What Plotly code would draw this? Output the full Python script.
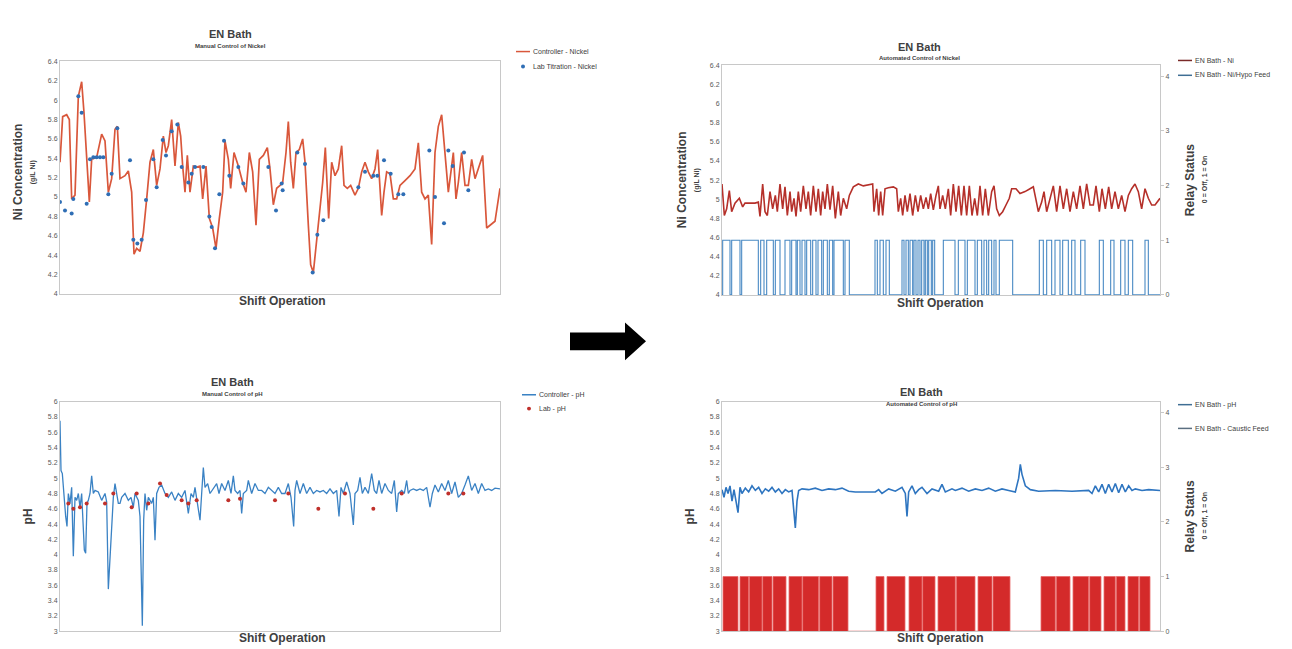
import plotly.graph_objects as go

# page offset compensation (browser body margin)
OFF = 8
W, H = 1292 - 2 * OFF, 649 - OFF

# ---------------- Top-left: Manual Control of Nickel ----------------
ni_manual_x = [0, 8, 20, 28, 35, 45, 55, 65, 72, 80, 88, 95, 110, 125, 135, 145, 155, 165, 172, 180,
               195, 205, 215, 222, 230, 240, 250, 260, 270, 280, 290, 300, 310, 318, 325, 335, 345, 355, 362, 368,
               375, 382, 390, 400, 410, 420, 428, 438, 448, 458, 468, 478, 488, 495, 505, 512, 522, 535, 548, 558,
               568, 578, 588, 598, 610, 622, 630, 640, 650, 660, 668, 678, 685, 692, 700, 708, 718, 728, 735, 745,
               752, 760, 770, 780, 788, 796, 806, 815, 825, 835, 845, 852, 862, 872, 885, 895, 905, 915, 925, 935,
               945, 953, 960, 965, 972, 980, 990, 1000, 1010, 1020, 1035, 1050, 1065, 1075, 1085, 1095, 1105, 1115, 1125, 1135,
               1145, 1155, 1165, 1175, 1180, 1188, 1195, 1205, 1215, 1225, 1235, 1245, 1255, 1268, 1280, 1290, 1305, 1320]
ni_manual_y = [5.36, 5.83, 5.85, 5.80, 4.98, 5.02, 6.04, 6.19, 5.87, 5.46, 4.95, 5.39, 5.41, 5.65, 5.58, 5.05, 5.19, 5.70, 5.73, 5.19,
               5.22, 5.27, 5.05, 4.41, 4.47, 4.44, 4.63, 4.98, 5.36, 5.49, 5.12, 5.29, 5.63, 5.46, 5.53, 5.80, 5.32, 5.77, 5.63, 5.32,
               5.05, 5.43, 5.05, 5.32, 5.31, 5.32, 4.98, 5.32, 4.78, 4.68, 4.47, 4.78, 5.05, 5.58, 5.39, 5.09, 5.46, 5.32, 5.15, 5.05,
               5.46, 5.26, 4.71, 5.39, 5.43, 5.51, 5.29, 4.92, 5.09, 5.12, 5.15, 5.46, 5.78, 5.36, 5.09, 5.46, 5.49, 5.60, 5.36, 4.71,
               4.30, 4.22, 4.57, 4.88, 5.15, 5.51, 4.78, 5.36, 5.22, 5.29, 5.53, 5.12, 5.09, 5.12, 5.02, 5.09, 5.26, 5.36, 5.26, 5.19,
               5.29, 5.49, 5.09, 4.81, 5.05, 5.26, 5.24, 4.98, 4.98, 5.12, 5.17, 5.22, 5.29, 5.56, 5.05, 4.98, 5.02, 4.51, 5.46, 5.73,
               5.85, 5.49, 5.05, 5.32, 5.46, 4.98, 5.15, 5.46, 5.12, 5.12, 5.39, 5.19, 5.29, 5.43, 4.68, 4.71, 4.75, 5.09]

lab_ni_x = [0, 15, 35, 40, 55, 65, 80, 90, 100, 110, 120, 130, 145, 155, 172, 210, 220, 232, 245, 258,
            280, 290, 308, 318, 335, 352, 365, 385, 395, 405, 430, 448, 455, 465, 478, 492, 508, 535, 550, 625,
            648, 665, 668, 712, 735, 758, 772, 790, 895, 915, 940, 952, 972, 992, 1015, 1030, 1108, 1125, 1152, 1165,
            1178, 1212, 1225]
lab_ni_y = [4.95, 4.86, 4.83, 4.98, 6.04, 5.87, 4.93, 5.39, 5.41, 5.41, 5.41, 5.41, 5.03, 5.24, 5.71, 5.38, 4.56, 4.52, 4.56, 4.97,
            5.39, 5.10, 5.59, 5.43, 5.68, 5.75, 5.31, 5.15, 5.24, 5.31, 5.31, 4.80, 4.69, 4.47, 5.03, 5.58, 5.22, 5.31, 5.14, 5.31,
            4.86, 5.14, 5.07, 5.46, 5.34, 4.22, 4.61, 4.76, 5.10, 5.26, 5.22, 5.22, 5.38, 5.24, 5.03, 5.03, 5.48, 5.00, 4.73, 5.48,
            5.32, 5.46, 5.07]

# ---------------- Top-right: Automated Control of Nickel ----------------
ni_auto_x = [96, 103, 110, 118, 125, 135, 148, 158, 165, 180, 195, 205, 210, 218, 225, 232, 240, 248, 256, 262,
             270, 278, 285, 292, 300, 305, 312, 318, 325, 332, 340, 348, 355, 362, 370, 378, 385, 392, 398, 405,
             412, 420, 428, 436, 445, 452, 460, 470, 478, 490, 505, 520, 535, 548, 552, 560, 566, 572, 578, 585,
             595, 610, 620, 625, 632, 638, 645, 652, 660, 668, 676, 684, 692, 700, 708, 715, 722, 730, 738, 745,
             750, 758, 766, 775, 782, 790, 798, 806, 814, 822, 830, 838, 846, 854, 862, 870, 878, 886, 895, 905,
             912, 920, 928, 938, 948, 958, 965, 978, 990, 1005, 1020, 1030, 1040, 1045, 1055, 1062, 1070, 1080, 1090, 1100,
             1110, 1120, 1130, 1140, 1150, 1160, 1170, 1180, 1190, 1200, 1210, 1218, 1228, 1236, 1246, 1256, 1265, 1275, 1285, 1295,
             1305, 1315, 1325, 1335, 1345, 1355, 1365, 1375, 1385, 1395, 1410]
ni_auto_y = [5.16, 4.83, 4.90, 5.09, 4.87, 4.96, 5.01, 4.92, 4.96, 4.96, 4.96, 4.97, 4.82, 5.16, 4.87, 4.83, 5.08, 4.90, 5.04, 4.87,
             5.16, 4.90, 5.13, 4.83, 5.08, 4.87, 5.01, 4.82, 5.08, 4.87, 5.14, 4.90, 5.08, 4.83, 5.14, 4.87, 5.11, 4.83, 5.08, 4.90,
             5.16, 4.89, 5.14, 4.80, 5.08, 4.83, 5.01, 4.90, 5.04, 5.13, 5.16, 5.14, 5.15, 5.16, 4.87, 5.11, 4.83, 5.08, 4.83, 5.11,
             5.12, 5.13, 5.11, 4.87, 5.01, 4.83, 5.04, 4.87, 5.06, 4.83, 5.04, 4.87, 5.04, 4.90, 5.02, 4.90, 5.06, 4.89, 5.04, 5.14,
             4.90, 5.04, 4.90, 5.11, 4.83, 5.16, 4.87, 5.14, 4.83, 5.14, 4.83, 5.14, 4.83, 5.01, 4.83, 5.14, 4.83, 5.11, 4.83, 5.08,
             5.14, 4.90, 4.83, 4.87, 4.94, 5.01, 5.11, 5.11, 5.06, 5.08, 5.11, 5.13, 4.96, 4.87, 4.97, 5.08, 4.87, 5.01, 5.14, 4.87,
             5.14, 4.90, 5.11, 4.87, 5.08, 4.90, 5.14, 4.90, 5.16, 4.94, 4.94, 5.14, 4.87, 5.11, 4.90, 5.13, 4.90, 5.08, 4.90, 5.04,
             4.87, 5.04, 5.11, 5.16, 5.08, 4.90, 5.11, 5.01, 4.94, 4.94, 5.01]

hypo_on_start = [98, 125, 155, 212, 230, 256, 285, 305, 322, 336, 350, 368, 384, 400, 418, 432, 465,
                 555, 570, 588,
                 636, 648, 660, 672, 684, 695, 706, 716, 728,
                 760, 805, 832, 862, 882, 896, 912, 928,
                 1048, 1070, 1095, 1118, 1145, 1172, 1228, 1262, 1292, 1315, 1365]
hypo_on_end = [120, 150, 205, 222, 250, 270, 300, 318, 330, 345, 362, 378, 395, 412, 428, 460, 478,
               562, 580, 598,
               642, 655, 668, 678, 690, 702, 712, 724, 734,
               795, 825, 855, 875, 890, 905, 918, 968,
               1060, 1085, 1110, 1135, 1155, 1185, 1240, 1272, 1305, 1328, 1375]

# ---------------- Bottom-left: Manual Control of pH ----------------
ph_manual_x = [15, 18, 22, 28, 32, 36, 40, 45, 50, 55, 60, 65, 70, 75, 80, 88, 92, 96, 100, 105,
               110, 115, 120, 130, 140, 150, 155, 160, 165, 170, 175, 180, 185, 190, 195, 200, 210, 220, 228, 235,
               240, 250, 255, 262, 266, 270, 275, 280, 290, 295, 300, 305, 312, 320, 330, 340, 350, 360, 370, 380,
               390, 400, 408, 415, 420, 428, 435, 440, 445, 450, 458, 465, 475, 485, 492, 500, 510, 520, 528, 535,
               540, 548, 555, 560, 565, 575, 580, 590, 600, 610, 620, 630, 640, 650, 660, 670, 680, 690, 700, 708,
               712, 716, 720, 725, 735, 745, 755, 765, 775, 785, 795, 805, 815, 825, 835, 845, 852, 858, 865, 875,
               885, 895, 900, 908, 915, 922, 930, 940, 950, 958, 965, 972, 980, 990, 1000, 1010, 1018, 1025, 1030, 1040,
               1048, 1055, 1060, 1065, 1075, 1085, 1095, 1105, 1115, 1125, 1132, 1140, 1150, 1160, 1170, 1180, 1190, 1200, 1210, 1220,
               1230, 1240, 1250, 1260, 1270, 1280, 1290, 1300, 1310, 1320, 1335]
ph_manual_y = [5.75, 5.10, 5.06, 4.67, 4.50, 4.37, 4.80, 4.67, 4.88, 3.98, 4.75, 4.71, 4.80, 4.62, 4.80, 4.06, 4.02, 4.67, 4.71, 4.80,
               5.03, 4.80, 4.84, 4.82, 4.71, 4.80, 4.69, 3.55, 3.94, 4.28, 4.75, 4.93, 4.80, 4.67, 4.67, 4.75, 4.80, 4.71, 4.75, 4.62,
               4.80, 4.71, 4.50, 3.07, 4.45, 4.80, 4.58, 4.75, 4.67, 4.75, 4.19, 4.80, 4.88, 4.91, 4.80, 4.75, 4.82, 4.71, 4.80, 4.75,
               4.84, 4.54, 4.80, 4.75, 4.88, 4.67, 4.45, 4.80, 5.14, 4.88, 4.93, 4.80, 4.86, 4.93, 4.80, 4.93, 4.84, 4.97, 4.80, 5.03,
               4.84, 4.80, 4.84, 4.54, 4.80, 4.84, 4.97, 4.80, 4.93, 4.84, 4.84, 4.80, 4.88, 4.84, 4.80, 4.88, 4.80, 4.80, 4.93, 4.75,
               4.54, 4.37, 4.84, 4.97, 4.80, 4.93, 4.80, 4.88, 4.80, 4.84, 4.82, 4.84, 4.80, 4.86, 4.80, 4.84, 4.50, 4.88, 4.80, 4.95,
               4.80, 4.39, 4.80, 4.84, 5.01, 4.80, 4.88, 4.80, 5.06, 4.84, 4.80, 4.97, 4.80, 4.93, 4.84, 4.80, 4.97, 4.56, 4.80, 4.84,
               4.80, 4.97, 4.80, 4.84, 4.86, 4.84, 4.86, 4.84, 4.88, 4.62, 4.80, 4.91, 4.82, 4.93, 4.84, 4.97, 4.80, 4.95, 4.75, 4.80,
               4.91, 5.03, 4.84, 4.93, 4.80, 4.93, 4.84, 4.86, 4.84, 4.87, 4.86]

lab_ph_x = [40, 55, 75, 95, 150, 175, 230, 245, 280, 315, 335, 380, 400, 425, 520, 555, 660, 700, 790, 870,
            955, 1040, 1180, 1225]
lab_ph_y = [4.67, 4.60, 4.62, 4.67, 4.67, 4.80, 4.62, 4.80, 4.67, 4.93, 4.78, 4.71, 4.67, 4.71, 4.71, 4.73, 4.71, 4.80, 4.60, 4.80,
            4.60, 4.80, 4.80, 4.80]

# ---------------- Bottom-right: Automated Control of pH ----------------
ph_auto_x = [0, 6, 12, 18, 24, 30, 36, 42, 48, 54, 60, 70, 80, 90, 100, 110, 120, 130, 140, 150,
             160, 170, 180, 190, 200, 210, 215, 220, 225, 230, 240, 260, 280, 300, 320, 340, 360, 380, 400, 430,
             460, 470, 480, 500, 520, 540, 550, 555, 560, 570, 580, 590, 600, 615, 630, 650, 660, 670, 690, 700,
             720, 740, 760, 780, 800, 820, 840, 860, 880, 890, 895, 900, 910, 925, 950, 1000, 1050, 1100, 1110, 1120,
             1130, 1140, 1150, 1160, 1170, 1180, 1190, 1200, 1210, 1220, 1230, 1240, 1260, 1280, 1314]
ph_auto_y = [4.85, 4.75, 4.88, 4.80, 4.90, 4.70, 4.85, 4.72, 4.55, 4.88, 4.80, 4.87, 4.82, 4.90, 4.84, 4.88, 4.80, 4.86, 4.83, 4.88,
             4.82, 4.86, 4.80, 4.85, 4.82, 4.84, 4.55, 4.35, 4.70, 4.84, 4.86, 4.85, 4.87, 4.84, 4.86, 4.85, 4.87, 4.83, 4.82, 4.82,
             4.82, 4.85, 4.80, 4.86, 4.83, 4.88, 4.80, 4.50, 4.82, 4.90, 4.80, 4.85, 4.88, 4.80, 4.86, 4.83, 4.92, 4.82, 4.86, 4.84,
             4.87, 4.83, 4.86, 4.84, 4.87, 4.83, 4.86, 4.84, 4.82, 5.00, 5.18, 5.05, 4.90, 4.85, 4.83, 4.84, 4.83, 4.84, 4.80, 4.90,
             4.82, 4.92, 4.80, 4.92, 4.82, 4.93, 4.81, 4.92, 4.82, 4.90, 4.84, 4.86, 4.84, 4.85, 4.84]

caustic_on_start = [3, 54, 82, 122, 153, 201, 242, 293, 333, 462, 495, 561, 602, 648, 703, 768, 813,
                    957, 1003, 1053, 1103, 1146, 1183, 1218, 1253]
caustic_on_end = [48, 80, 120, 150, 192, 240, 290, 330, 378, 486, 549, 600, 639, 700, 759, 810, 864,
                  1000, 1044, 1100, 1137, 1180, 1209, 1250, 1284]

ni_ticks = [4, 4.2, 4.4, 4.6, 4.8, 5, 5.2, 5.4, 5.6, 5.8, 6, 6.2, 6.4]
ph_ticks = [3, 3.2, 3.4, 3.6, 3.8, 4, 4.2, 4.4, 4.6, 4.8, 5, 5.2, 5.4, 5.6, 5.8, 6]
relay_ticks = [0, 1, 2, 3, 4]


def step_series(starts, ends, x0, x1):
    xs, ys = [x0], [0]
    for s, e in zip(starts, ends):
        xs += [s, s, e, e]
        ys += [0, 1, 1, 0]
    xs.append(x1)
    ys.append(0)
    return xs, ys


# positions are given in screen pixels of the 1292x649 page
def fx(px):
    return (px - OFF) / W


def fy(py):
    return 1 - (py - OFF) / H


def px_x(a, b):
    return [fx(a), fx(b)]


def px_y(top, bottom):
    return [fy(bottom), fy(top)]


fig = go.Figure()

C_NI_MAN = "#d9573b"
C_LAB_NI = "#2f6eb5"
C_NI_AUTO = "#b5302a"
C_HYPO = "#4a8ac4"
C_PH_MAN = "#3a82c4"
C_LAB_PH = "#c0302b"
C_PH_AUTO = "#2e75c0"
C_CAUSTIC = "#d42a2a"

fig.add_trace(go.Scatter(x=ni_manual_x, y=ni_manual_y, mode="lines", line=dict(color=C_NI_MAN, width=1.7),
                         xaxis="x", yaxis="y"))
fig.add_trace(go.Scatter(x=lab_ni_x, y=lab_ni_y, mode="markers", marker=dict(color=C_LAB_NI, size=4),
                         xaxis="x", yaxis="y"))

hx, hy = step_series(hypo_on_start, hypo_on_end, 96, 1410)
fig.add_trace(go.Scatter(x=ni_auto_x, y=ni_auto_y, mode="lines", line=dict(color=C_NI_AUTO, width=1.6),
                         xaxis="x2", yaxis="y2"))
fig.add_trace(go.Scatter(x=hx, y=hy, mode="lines", line=dict(color=C_HYPO, width=1.1),
                         xaxis="x2", yaxis="y3"))

fig.add_trace(go.Scatter(x=ph_manual_x, y=ph_manual_y, mode="lines", line=dict(color=C_PH_MAN, width=1.3),
                         xaxis="x3", yaxis="y4"))
fig.add_trace(go.Scatter(x=lab_ph_x, y=lab_ph_y, mode="markers", marker=dict(color=C_LAB_PH, size=4),
                         xaxis="x3", yaxis="y4"))

cx, cy = step_series(caustic_on_start, caustic_on_end, 0, 1314)
fig.add_trace(go.Scatter(x=ph_auto_x, y=ph_auto_y, mode="lines", line=dict(color=C_PH_AUTO, width=1.6),
                         xaxis="x4", yaxis="y5"))
fig.add_trace(go.Scatter(x=cx, y=cy, mode="lines", fill="tozeroy", fillcolor=C_CAUSTIC,
                         line=dict(color="#e86a6a", width=0.8), xaxis="x4", yaxis="y6"))

tickfont = dict(family="Liberation Sans, Arial", size=7, color="#595959")
axis_common = dict(showgrid=False, zeroline=False, showline=True, linecolor="#c8c8c8", linewidth=1,
                   mirror=True, ticks="")


def yax(domain, rng, vals, anchor):
    return dict(domain=domain, range=rng, tickvals=vals, ticktext=[f"{v:g}" for v in vals], anchor=anchor,
                tickfont=tickfont, **axis_common)


def xax(domain, rng, anchor):
    return dict(domain=domain, range=rng, showticklabels=False, anchor=anchor, **axis_common)


def y2ax(over, anchor):
    return dict(overlaying=over, side="right", anchor=anchor, range=[0, 4.2], tickvals=relay_ticks,
                tickfont=tickfont, showgrid=False, zeroline=False, showline=False, ticks="outside",
                ticklen=3, tickcolor="#c8c8c8")


fig.update_layout(
    width=W, height=H, margin=dict(l=0, r=0, t=0, b=0),
    paper_bgcolor="white", plot_bgcolor="white", showlegend=False,
    xaxis=xax(px_x(60, 500), [0, 1320], "y"),
    yaxis=yax(px_y(58, 293), [4, 6.4], ni_ticks, "x"),
    xaxis2=xax(px_x(722, 1160), [96, 1410], "y2"),
    yaxis2=yax(px_y(62, 294), [4, 6.4], ni_ticks, "x2"),
    yaxis3=y2ax("y2", "x2"),
    xaxis3=xax(px_x(60, 500), [15, 1335], "y4"),
    yaxis4=yax(px_y(402, 634), [3, 6], ph_ticks, "x3"),
    xaxis4=xax(px_x(722, 1160), [0, 1314], "y5"),
    yaxis5=yax(px_y(402, 634), [3, 6], ph_ticks, "x4"),
    yaxis6=y2ax("y5", "x4"),
)

annos = []
shapes = []


def text(x, y, s, size, bold=False, angle=0, color="#404040", anchor="center"):
    annos.append(dict(x=fx(x), y=fy(y), xref="paper", yref="paper", showarrow=False,
                      text=f"<b>{s}</b>" if bold else s, textangle=angle,
                      font=dict(family="Liberation Sans, Arial", size=size, color=color),
                      xanchor=anchor, yanchor="middle"))


def legend_line(x, y, label, color, width=1.5):
    shapes.append(dict(type="line", xref="paper", yref="paper", x0=fx(x), x1=fx(x + 14), y0=fy(y), y1=fy(y),
                       line=dict(color=color, width=width)))
    text(x + 15, y, label, 7, False, 0, "#404040", "left")


def legend_dot(x, y, label, color):
    shapes.append(dict(type="circle", xref="paper", yref="paper", x0=fx(x + 5), x1=fx(x + 9),
                       y0=fy(y + 2), y1=fy(y - 2), fillcolor=color, line=dict(color=color, width=0)))
    text(x + 15, y, label, 7, False, 0, "#404040", "left")


text(230, 30, "EN Bath", 11, True)
text(230, 42, "Manual Control of Nickel", 6, True)
text(920, 43, "EN Bath", 11, True)
text(920, 55, "Automated Control of Nickel", 6, True)
text(232, 382, "EN Bath", 11, True)
text(232, 394, "Manual Control of pH", 6, True)
text(921, 392, "EN Bath", 11, True)
text(921, 404, "Automated Control of pH", 6, True)

text(18, 170, "Ni Concentration", 12, True, -90)
text(33, 170, "(g/L Ni)", 7, True, -90)
text(682, 178, "Ni Concentration", 12, True, -90)
text(697, 178, "(g/L Ni)", 7, True, -90)
text(28, 518, "pH", 12, True, -90)
text(690, 518, "pH", 12, True, -90)
text(1190, 178, "Relay Status", 12, True, -90)
text(1205, 178, "0 = Off, 1 = On", 7, True, -90)
text(1190, 518, "Relay Status", 12, True, -90)
text(1205, 518, "0 = Off, 1 = On", 7, True, -90)

text(282, 300, "Shift Operation", 12, True)
text(940, 302, "Shift Operation", 12, True)
text(282, 641, "Shift Operation", 12, True)
text(940, 641, "Shift Operation", 12, True)

legend_line(516, 48, "Controller - Nickel", C_NI_MAN)
legend_dot(516, 63, "Lab Titration - Nickel", C_LAB_NI)
legend_line(1178, 57, "EN Bath - Ni", "#7a2a28")
legend_line(1178, 72, "EN Bath - Ni/Hypo Feed", "#3f6e94")
legend_line(522, 395, "Controller - pH", C_PH_MAN)
legend_dot(522, 409, "Lab - pH", C_LAB_PH)
legend_line(1178, 405, "EN Bath - pH", "#3f6e94")
legend_line(1178, 429, "EN Bath - Caustic Feed", "#5a6e80")

# arrow between panels
shapes.append(dict(type="path", xref="paper", yref="paper",
                   path=f"M {fx(570)} {fy(332)} L {fx(625)} {fy(332)} L {fx(625)} {fy(322)} L {fx(646)} {fy(341)} "
                        f"L {fx(625)} {fy(360)} L {fx(625)} {fy(350)} L {fx(570)} {fy(350)} Z",
                   fillcolor="black", line=dict(color="black", width=0)))

fig.update_layout(annotations=annos, shapes=shapes)

fig.write_html("out.html")
